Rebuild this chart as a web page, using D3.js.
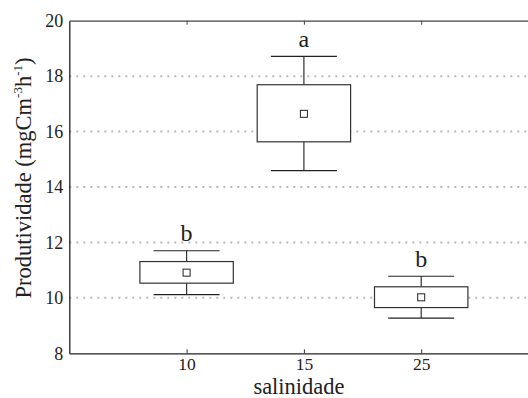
<!DOCTYPE html>
<html><head><meta charset="utf-8">
<script src="https://cdn.jsdelivr.net/npm/d3@7"></script>
<style>body{margin:0;background:#fff}svg{display:block}</style>
</head><body><svg id="c" width="528" height="398"></svg>
<script>
const categories = ["10","15","25"];
const whiskerLow = [10.12, 14.59, 9.27];
const q1 = [10.53, 15.63, 9.65];
const q3 = [11.31, 17.69, 10.40];
const whiskerHigh = [11.70, 18.71, 10.78];
const means = [10.91, 16.64, 10.02];
const letters = ["b","a","b"];
const yTicks = [8,10,12,14,16,18,20];
const gridVals = [10,12,14,16,18];

const FONT = "'Liberation Serif', 'DejaVu Serif', serif";
const svg = d3.select("#c");
const mLeft = 69.3, mTop = 20.7, mBottom = 353.3, mRight = 538.5;
const x = d3.scaleLinear().domain([0,4]).range([mLeft, mRight]);
const y = d3.scaleLinear().domain([8,20]).range([mBottom, mTop]);
const xi = i => x(i+1);
const boxHalf = 46.7, capHalf = 33, markHalf = 3.5;

// grid
svg.append("g").selectAll("line").data(gridVals).join("line")
  .attr("x1", mLeft).attr("x2", 528).attr("y1", d=>y(d)).attr("y2", d=>y(d))
  .attr("stroke", "#b8b8b8").attr("stroke-width", 2).attr("stroke-dasharray", "2,5");

// boxes
const g = svg.append("g");
categories.forEach((c,i)=>{
  const cx = xi(i);
  g.append("line").attr("x1",cx).attr("x2",cx).attr("y1",y(whiskerLow[i])).attr("y2",y(whiskerHigh[i])).attr("stroke","#333").attr("stroke-width",1.2);
  [whiskerLow[i], whiskerHigh[i]].forEach(v=>{
    g.append("line").attr("x1",cx-capHalf).attr("x2",cx+capHalf).attr("y1",y(v)).attr("y2",y(v)).attr("stroke","#222").attr("stroke-width",1.2);
  });
  g.append("rect").attr("x",cx-boxHalf).attr("y",y(q3[i])).attr("width",2*boxHalf).attr("height",y(q1[i])-y(q3[i]))
    .attr("fill","#fff").attr("stroke","#333").attr("stroke-width",1.2);
  g.append("rect").attr("x",cx-markHalf).attr("y",y(means[i])-markHalf).attr("width",2*markHalf).attr("height",2*markHalf)
    .attr("fill","#fff").attr("stroke","#222").attr("stroke-width",1);
  g.append("text").attr("x",cx).attr("y",y(whiskerHigh[i])-9.5).attr("text-anchor","middle")
    .style("font-family",FONT).style("font-size","24px").attr("fill","#222").text(letters[i]);
});

// axes
const yAxis = d3.axisLeft(y).tickValues(yTicks).tickSize(0).tickPadding(6);
const ya = svg.append("g").attr("transform",`translate(${mLeft},0)`).call(yAxis);
ya.select(".domain").attr("stroke","#222").attr("stroke-width",1.3);
ya.selectAll("text").style("font-size","18px").style("font-family",FONT).attr("fill","#222");

const xAxis = d3.axisBottom(x).tickValues([1,2,3]).tickFormat((d)=>categories[d-1]).tickSizeInner(-4).tickSizeOuter(0).tickPadding(4);
const xa = svg.append("g").attr("transform",`translate(0,${mBottom})`).call(xAxis);
xa.select(".domain").attr("stroke","#222").attr("stroke-width",1.3);
xa.selectAll(".tick line").attr("stroke","#333");
xa.selectAll("text").style("font-size","17.5px").style("font-family",FONT).attr("fill","#222");

const xTop = d3.axisTop(x).tickValues([1,2,3]).tickFormat("").tickSizeInner(-4).tickSizeOuter(0);
const xt = svg.append("g").attr("transform",`translate(0,${mTop})`).call(xTop);
xt.select(".domain").attr("stroke","#444").attr("stroke-width",1.3);
xt.selectAll(".tick line").attr("stroke","#444");

// axis titles
svg.append("text").attr("x",299).attr("y",394).attr("text-anchor","middle")
  .style("font-family",FONT).style("font-size","22.5px").attr("fill","#222").text("salinidade");
const yl = svg.append("text").attr("transform","translate(31,178) rotate(-90)").attr("text-anchor","middle")
  .style("font-family",FONT).style("font-size","22.5px").attr("fill","#222");
yl.append("tspan").text("Produtividade (mgCm");
yl.append("tspan").style("font-size","13px").attr("dy",-9).text("-3");
yl.append("tspan").attr("dy",9).text("h");
yl.append("tspan").style("font-size","13px").attr("dy",-9).text("-1");
yl.append("tspan").attr("dy",9).text(")");
</script></body></html>
